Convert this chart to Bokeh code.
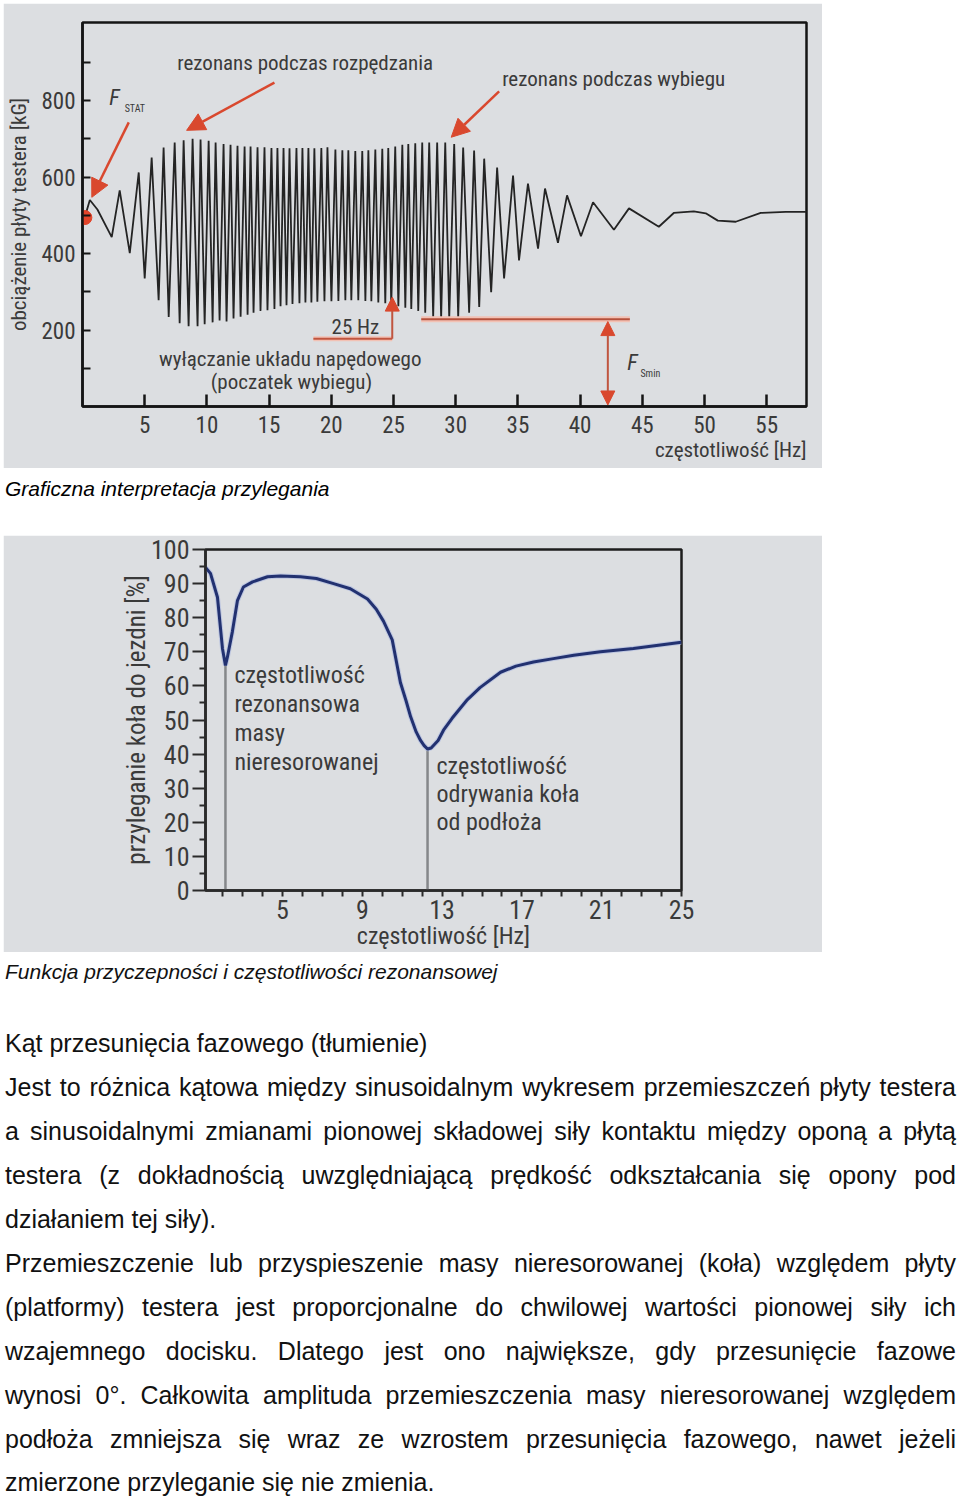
from bokeh.plotting import figure
from bokeh.models import Range1d, FixedTicker, Label, Arrow, NormalHead, Div, Title
from bokeh.embed import file_html
from bokeh.resources import INLINE

# ---------------- chart 1 data: load of the tester plate vs frequency ----------------
load_freq_hz = [0.18, 0.59, 1.20, 2.35, 2.99, 3.80, 4.52, 5.00, 5.56, 6.12, 6.52, 6.93, 7.41, 7.81,
                8.13, 8.53, 8.85, 9.25, 9.49, 9.82, 10.14, 10.46, 10.70, 11.02, 11.34, 11.58,
                11.90, 12.14, 12.46, 12.71, 13.03, 13.27, 13.51, 13.75, 14.07, 14.31, 14.63,
                14.87, 15.19, 15.43, 15.67, 15.92, 16.16, 16.40, 16.64, 16.88, 17.20, 17.44,
                17.68, 17.92, 18.16, 18.40, 18.64, 18.88, 19.20, 19.45, 19.69, 20.01, 20.33,
                20.57, 20.89, 21.13, 21.37, 21.61, 21.93, 22.17, 22.49, 22.74, 22.98, 23.22,
                23.54, 23.78, 24.10, 24.34, 24.58, 24.82, 25.14, 25.39, 25.71, 25.95, 26.19,
                26.43, 26.75, 26.99, 27.31, 27.55, 27.87, 28.19, 28.51, 28.83, 29.16, 29.48,
                29.88, 30.20, 30.60, 31.08, 31.48, 31.89, 32.29, 32.85, 33.33, 33.89, 34.61,
                35.09, 35.81, 36.62, 37.18, 38.22, 38.95, 40.07, 41.04, 42.72, 43.93, 46.33,
                47.53, 49.14, 50.10, 51.07, 52.51, 54.52, 56.53, 58.21]
load_kg = [494, 540, 515, 443, 565, 401, 612, 335, 651, 278, 677, 234, 690, 218,
           696, 210, 700, 210, 698, 215, 695, 220, 690, 225, 686, 222,
           684, 230, 682, 235, 680, 240, 680, 245, 678, 250, 678,
           252, 676, 255, 676, 262, 676, 265, 675, 268, 676, 270,
           676, 272, 676, 272, 675, 274, 676, 275, 678, 275, 672,
           276, 670, 278, 670, 278, 668, 278, 668, 276, 670, 275,
           672, 272, 674, 270, 676, 266, 680, 262, 684, 258, 686,
           255, 688, 250, 690, 245, 690, 235, 690, 231, 690, 231,
           686, 233, 677, 245, 669, 260, 648, 299, 625, 335, 604,
           382, 583, 413, 570, 428, 552, 445, 534, 462, 518, 470,
           506, 510, 505, 486, 483, 506, 509, 509]
fstat_hz = [0.19]
fstat_kg = [494]
x1_ticks = [5, 10, 15, 20, 25, 30, 35, 40, 45, 50, 55]
y1_ticks = [200, 400, 600, 800]
y1_minor = [100, 300, 500, 700, 900]

# ---------------- chart 2 data: adhesion vs frequency ----------------
adh_freq_hz = [1.14, 1.39, 1.74, 1.99, 2.14, 2.24, 2.49, 2.74, 3.04, 3.50, 4.25, 4.90, 5.90, 6.70,
               7.56, 8.40, 9.26, 9.70, 10.06, 10.50, 10.91, 11.20, 11.42, 11.70, 11.92, 12.10,
               12.27, 12.45, 12.80, 13.07, 13.50, 14.27, 14.90, 15.93, 16.70, 17.58, 18.58,
               19.60, 20.94, 22.59, 25.00]
adh_pct = [94.7, 93.0, 86.0, 71.0, 66.0, 68.5, 76.0, 85.0, 89.0, 90.5, 92.0, 92.2, 92.0, 91.5,
           90.0, 88.5, 85.5, 82.5, 79.0, 73.5, 61.0, 55.5, 51.0, 46.5, 44.0, 42.5,
           41.5, 41.8, 44.0, 47.0, 50.5, 56.0, 59.5, 64.0, 65.8, 67.0, 68.0,
           69.0, 70.0, 71.0, 72.8]
marker_freq_hz = [2.14, 12.27]
marker_pct = [66.0, 41.5]
x2_ticks = [5, 9, 13, 17, 21, 25]
x2_minor = [2, 3, 4, 6, 7, 8, 10, 11, 12, 14, 15, 16, 18, 19, 20, 22, 23, 24]
y2_ticks = [0, 10, 20, 30, 40, 50, 60, 70, 80, 90, 100]
y2_minor = [5, 15, 25, 35, 45, 55, 65, 75, 85, 95]

# ---------------- styles ----------------
GREY = "#dcdee1"
TXT = "#3a3a3a"
RED = "#d9482e"
NARROW = "Roboto Condensed, Roboto"

# ================= chart 1 =================
p1 = figure(width=819, height=465, x_range=Range1d(0, 58.2), y_range=Range1d(0, 1004),
            output_backend="svg", toolbar_location=None, margin=(3, 0, 0, 3),
            min_border_left=79, min_border_right=16, min_border_top=19, min_border_bottom=62)
p1.background_fill_color = GREY
p1.border_fill_color = GREY
p1.outline_line_color = "#151515"
p1.outline_line_width = 2.5
p1.grid.visible = False

xa = p1.xaxis[0]
xa.ticker = FixedTicker(ticks=x1_ticks)
xa.major_tick_in = 12
xa.major_tick_out = 0
xa.minor_tick_in = 0
xa.minor_tick_out = 0
xa.axis_line_width = 2.5
xa.axis_line_color = "#151515"
xa.major_tick_line_width = 2.5
xa.major_tick_line_color = "#151515"
xa.major_label_text_font = NARROW
xa.major_label_text_font_size = "23px"
xa.major_label_text_color = TXT
xa.major_label_standoff = 9

ya = p1.yaxis[0]
ya.ticker = FixedTicker(ticks=y1_ticks, minor_ticks=y1_minor)
ya.major_tick_in = 8
ya.major_tick_out = 0
ya.minor_tick_in = 8
ya.minor_tick_out = 0
ya.axis_line_width = 2.5
ya.axis_line_color = "#151515"
ya.major_tick_line_width = 2
ya.minor_tick_line_width = 2
ya.major_tick_line_color = "#151515"
ya.minor_tick_line_color = "#151515"
ya.major_label_text_font = NARROW
ya.major_label_text_font_size = "23px"
ya.major_label_text_color = TXT
ya.major_label_standoff = 7
ya.axis_label = "obciążenie płyty testera [kG]"
ya.axis_label_text_font = NARROW
ya.axis_label_text_font_size = "21px"
ya.axis_label_text_font_style = "normal"
ya.axis_label_text_color = TXT
ya.axis_label_standoff = 7

p1.add_layout(Title(text="częstotliwość [Hz]", align="right", text_font=NARROW,
                    text_font_size="21px", text_font_style="normal", text_color=TXT,
                    standoff=0), "below")

p1.line(load_freq_hz, load_kg, line_color="#242424", line_width=1.8)
p1.scatter(fstat_hz, fstat_kg, size=14, fill_color="#e2442a", line_color="#e2442a")

# F_Smin reference line and double arrow
p1.line([27.23, 44.0], [228, 228], line_color="#f2c1b4", line_width=6)
p1.line([27.23, 44.0], [228, 228], line_color="#b5503c", line_width=2)
p1.add_layout(Arrow(start=NormalHead(size=14, fill_color=RED, line_color=RED),
                    end=NormalHead(size=14, fill_color=RED, line_color=RED),
                    x_start=42.23, y_start=222, x_end=42.23, y_end=4,
                    line_color="#c0553f", line_width=2))
# 25 Hz marker
p1.line([18.56, 24.9], [177, 177], line_color="#f2c1b4", line_width=5)
p1.line([18.56, 24.9], [177, 177], line_color="#c0553f", line_width=2)
p1.add_layout(Arrow(end=NormalHead(size=14, fill_color=RED, line_color=RED),
                    x_start=24.9, y_start=177, x_end=24.9, y_end=286,
                    line_color="#c0553f", line_width=2))
# callout arrows
for xs, ys, xe, ye in [(3.72, 743, 0.75, 547), (15.43, 847, 8.37, 722), (33.49, 824, 29.64, 704)]:
    p1.add_layout(Arrow(end=NormalHead(size=18, fill_color=RED, line_color=RED),
                        x_start=xs, y_start=ys, x_end=xe, y_end=ye,
                        line_color=RED, line_width=2.5))


def lab(p, x, y, text, size="21px", align="center", style="normal", color=TXT, baseline="middle"):
    p.add_layout(Label(x=x, y=y, text=text, text_font=NARROW, text_font_size=size,
                       text_align=align, text_baseline=baseline, text_font_style=style,
                       text_color=color))


lab(p1, 17.9, 899, "rezonans podczas rozpędzania")
lab(p1, 42.7, 857, "rezonans podczas wybiegu")
lab(p1, 21.94, 208, "25 Hz")
lab(p1, 16.7, 124, "wyłączanie układu napędowego")
lab(p1, 16.8, 64, "(poczatek wybiegu)")
lab(p1, 2.15, 808, "F", size="22px", align="left", style="italic")
lab(p1, 3.39, 780, "STAT", size="10px", align="left")
lab(p1, 43.8, 114, "F", size="22px", align="left", style="italic")
lab(p1, 44.85, 86, "Smin", size="10px", align="left")

# ================= chart 2 =================
p2 = figure(width=819, height=417, x_range=Range1d(1.14, 25.0), y_range=Range1d(0, 100),
            output_backend="svg", toolbar_location=None, margin=(0, 0, 0, 3),
            min_border_left=202, min_border_right=141, min_border_top=14, min_border_bottom=61)
p2.background_fill_color = GREY
p2.border_fill_color = GREY
p2.outline_line_color = "#1d1d1d"
p2.outline_line_width = 2.5
p2.grid.visible = False

xb = p2.xaxis[0]
xb.ticker = FixedTicker(ticks=x2_ticks, minor_ticks=x2_minor)
xb.major_tick_in = 0
xb.major_tick_out = 6
xb.minor_tick_in = 0
xb.minor_tick_out = 6
xb.axis_line_width = 2.5
xb.axis_line_color = "#2a2a2a"
xb.major_tick_line_width = 2
xb.minor_tick_line_width = 2
xb.major_tick_line_color = "#2a2a2a"
xb.minor_tick_line_color = "#2a2a2a"
xb.major_label_text_font = NARROW
xb.major_label_text_font_size = "26px"
xb.major_label_text_color = TXT
xb.major_label_standoff = 3
xb.axis_label = "częstotliwość [Hz]"
xb.axis_label_text_font = NARROW
xb.axis_label_text_font_size = "24px"
xb.axis_label_text_font_style = "normal"
xb.axis_label_text_color = TXT
xb.axis_label_standoff = 0

yb = p2.yaxis[0]
yb.ticker = FixedTicker(ticks=y2_ticks, minor_ticks=y2_minor)
yb.major_tick_in = 0
yb.major_tick_out = 13
yb.minor_tick_in = 0
yb.minor_tick_out = 6
yb.axis_line_width = 2.5
yb.axis_line_color = "#2a2a2a"
yb.major_tick_line_width = 2
yb.minor_tick_line_width = 2
yb.major_tick_line_color = "#2a2a2a"
yb.minor_tick_line_color = "#2a2a2a"
yb.major_label_text_font = NARROW
yb.major_label_text_font_size = "26px"
yb.major_label_text_color = TXT
yb.major_label_standoff = 3
yb.axis_label = "przyleganie koła do jezdni [%]"
yb.axis_label_text_font = NARROW
yb.axis_label_text_font_size = "25px"
yb.axis_label_text_font_style = "normal"
yb.axis_label_text_color = TXT
yb.axis_label_standoff = -3

p2.segment(x0=marker_freq_hz, y0=[0, 0], x1=marker_freq_hz, y1=marker_pct,
           line_color="#85878a", line_width=2.5)
p2.line(adh_freq_hz, adh_pct, line_color="#a9b6e0", line_width=5, line_alpha=0.6)
p2.line(adh_freq_hz, adh_pct, line_color="#223170", line_width=3)

for i, t in enumerate(["częstotliwość", "rezonansowa", "masy", "nieresorowanej"]):
    lab(p2, 2.59, 63.2 - 8.5 * i, t, size="24px", align="left")
for i, t in enumerate(["częstotliwość", "odrywania koła", "od podłoża"]):
    lab(p2, 12.72, 36.5 - 8.2 * i, t, size="24px", align="left")

# ================= text blocks =================
SANS = "'Liberation Sans', Arial, Helvetica, sans-serif"
cap1 = Div(text=(f'<div style="font-family:{SANS}; font-style:italic; font-size:21px; '
                 'line-height:42px; color:#000; white-space:nowrap;">'
                 'Graficzna interpretacja przylegania</div>'),
           width=951, height=67, margin=(0, 0, 0, 5))

body_lines = [
    "Jest to różnica kątowa między sinusoidalnym wykresem przemieszczeń płyty testera",
    "a sinusoidalnymi zmianami pionowej składowej siły kontaktu między oponą a płytą",
    "testera (z dokładnością uwzględniającą prędkość odkształcania się opony pod",
    "działaniem tej siły).",
    "Przemieszczenie lub przyspieszenie masy nieresorowanej (koła) względem płyty",
    "(platformy) testera jest proporcjonalne do chwilowej wartości pionowej siły ich",
    "wzajemnego docisku. Dlatego jest ono największe, gdy przesunięcie fazowe",
    "wynosi 0°. Całkowita amplituda przemieszczenia masy nieresorowanej  względem",
    "podłoża zmniejsza się wraz ze wzrostem przesunięcia fazowego, nawet jeżeli",
    "zmierzone przyleganie się nie zmienia.",
]
last_lines = {3, 9}
html = [f'<div style="font-family:{SANS}; color:#111; width:951px;">',
        '<div style="font-style:italic; font-size:21px; line-height:40px; white-space:nowrap;">'
        'Funkcja przyczepności i częstotliwości rezonansowej</div>',
        '<div style="font-size:25px; line-height:44px; margin-top:29px; white-space:nowrap;">'
        'Kąt przesunięcia fazowego (tłumienie)</div>']
for i, t in enumerate(body_lines):
    if i == 9:
        st = "font-size:25px; line-height:28px; margin-top:7px; text-align:left; white-space:nowrap;"
    elif i in last_lines:
        st = "font-size:25px; line-height:44px; text-align:left; white-space:nowrap;"
    else:
        st = "font-size:25px; line-height:44px; text-align:justify; text-align-last:justify;"
    html.append(f'<div style="{st}">{t}</div>')
html.append('</div>')
body = Div(text="".join(html), width=951, height=544, margin=(0, 0, 0, 5))

open("out.html", "w", encoding="utf-8").write(file_html([p1, cap1, p2, body], INLINE))
